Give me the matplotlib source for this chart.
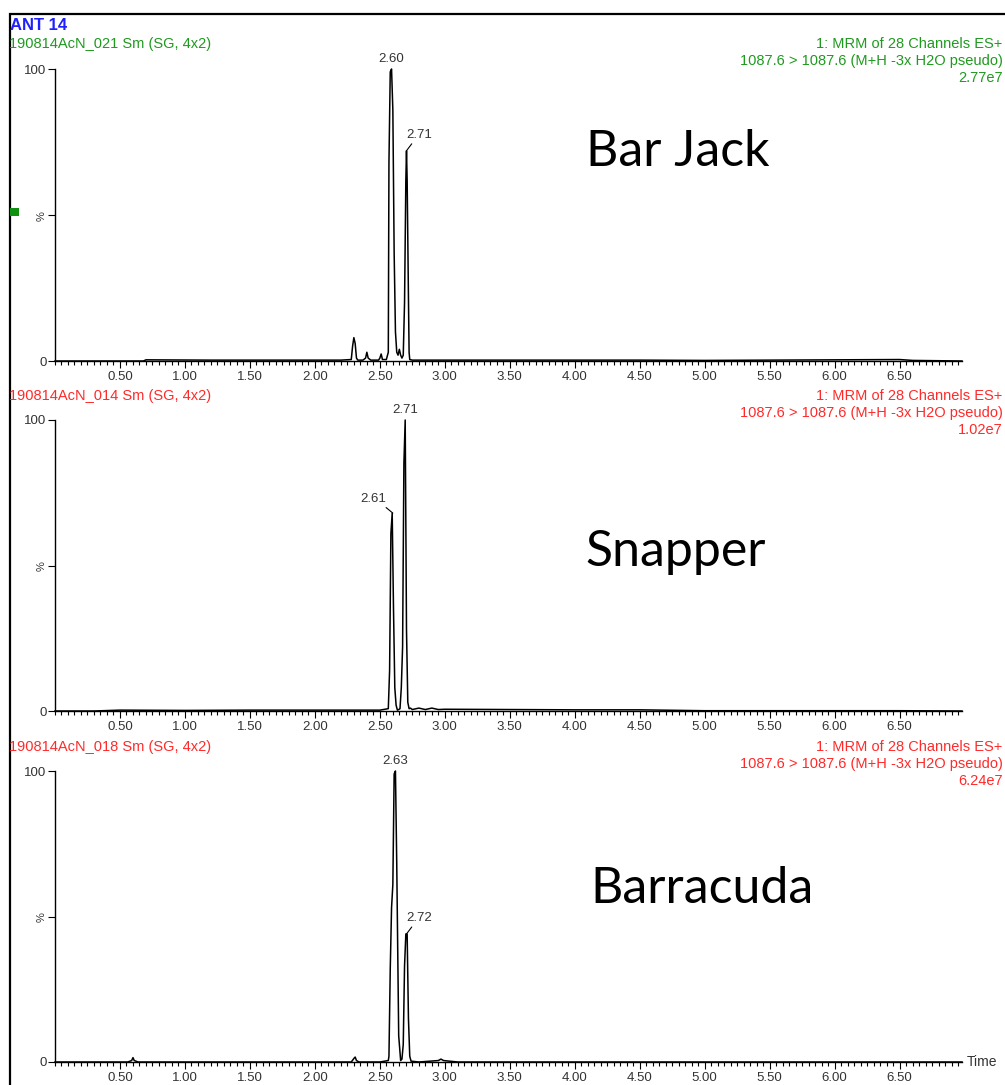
import matplotlib
matplotlib.use("Agg")
import matplotlib.pyplot as plt
from matplotlib.patches import Rectangle
from matplotlib.ticker import MultipleLocator, FixedLocator

# ---------------- data ----------------
title = "ANT 14"
sample_names = ["190814AcN_021 Sm (SG, 4x2)", "190814AcN_014 Sm (SG, 4x2)", "190814AcN_018 Sm (SG, 4x2)"]
channel_line1 = "1: MRM of 28 Channels ES+"
channel_line2 = "1087.6 > 1087.6 (M+H -3x H2O pseudo)"
intensities = ["2.77e7", "1.02e7", "6.24e7"]
species = ["Bar Jack", "Snapper", "Barracuda"]
header_colors = ["#1f9a1f", "#ff2a2a", "#ff2a2a"]

# Bar Jack trace (time in min, relative intensity %)
t_barjack = [0.00, 0.68, 0.70, 1.20, 1.80, 2.20, 2.28, 2.29, 2.30, 2.31, 2.32, 2.33,
             2.37, 2.39, 2.40, 2.41, 2.43, 2.49, 2.50, 2.51, 2.52, 2.55, 2.565,
             2.57, 2.58, 2.59, 2.60, 2.61, 2.62, 2.63, 2.64, 2.65, 2.66, 2.67,
             2.68, 2.69, 2.70, 2.705, 2.71, 2.72, 2.725, 2.73, 2.75, 2.85, 3.50,
             4.50, 5.00, 6.50, 6.60, 6.98]
v_barjack = [0.0, 0.0, 0.4, 0.3, 0.3, 0.3, 0.5, 5.0, 8.0, 6.0, 1.0, 0.3,
             0.3, 1.0, 3.0, 1.0, 0.3, 0.3, 1.0, 2.4, 0.5, 0.5, 3.0,
             68.0, 99.0, 100.0, 86.0, 37.0, 10.0, 3.0, 2.0, 4.0, 2.0, 1.0,
             2.0, 20.0, 62.0, 72.0, 62.0, 22.0, 3.0, 0.5, 0.3, 0.3, 0.3,
             0.3, 0.2, 0.5, 0.2, 0.0]

# Snapper trace
t_snapper = [0.00, 0.30, 0.50, 1.00, 1.50, 2.00, 2.50, 2.565, 2.575, 2.585,
             2.595, 2.605, 2.615, 2.625, 2.635, 2.645, 2.655, 2.665, 2.675,
             2.685, 2.695, 2.705, 2.715, 2.725, 2.735, 2.75, 2.80, 2.85, 2.90,
             2.95, 3.00, 3.50, 4.00, 4.50, 5.00, 6.50, 6.98]
v_snapper = [0.0, 0.0, 0.3, 0.2, 0.3, 0.3, 0.3, 0.8, 14.0, 61.0,
             68.0, 35.0, 8.0, 2.0, 0.3, 0.5, 0.8, 8.0, 22.0,
             85.0, 100.0, 28.0, 3.0, 0.8, 1.0, 0.5, 1.0, 0.5, 1.0,
             0.5, 0.6, 0.5, 0.4, 0.4, 0.1, 0.1, 0.0]

# Barracuda trace
t_barracuda = [0.00, 0.56, 0.59, 0.60, 0.61, 0.64, 1.50, 2.28, 2.30, 2.31, 2.32,
               2.34, 2.50, 2.565, 2.57, 2.58, 2.59, 2.60, 2.61, 2.62, 2.63, 2.645,
               2.66, 2.67, 2.68, 2.69, 2.70, 2.71, 2.72, 2.73, 2.74, 2.80, 2.95,
               2.97, 2.99, 3.10, 6.98]
v_barracuda = [0.0, 0.0, 0.5, 1.5, 0.5, 0.0, 0.0, 0.0, 1.2, 1.7, 0.5,
               0.0, 0.0, 0.5, 2.0, 32.0, 53.0, 61.0, 99.0, 100.0, 68.0, 9.0,
               0.5, 1.0, 6.0, 33.0, 44.0, 44.0, 15.0, 2.0, 0.3, 0.0, 0.5,
               1.0, 0.5, 0.0, 0.0]

traces_t = [t_barjack, t_snapper, t_barracuda]
traces_v = [v_barjack, v_snapper, v_barracuda]

# peak labels: (time of apex, value, label text)
peak_labels = [
    [(2.59, 100.0, "2.60"), (2.705, 72.0, "2.71")],
    [(2.60, 68.0, "2.61"), (2.695, 100.0, "2.71")],
    [(2.615, 100.0, "2.63"), (2.705, 44.0, "2.72")],
]
label_offsets = [
    [(0, 3), (9, 7)],
    [(-4.5, 6), (0, 3)],
    [(0, 3), (9, 7)],
]

x_major_labels = [0.50, 1.00, 1.50, 2.00, 2.50, 3.00, 3.50, 4.00, 4.50, 5.00, 5.50, 6.00, 6.50]

# ---------------- figure ----------------
W, H = 1005, 1085
fig = plt.figure(figsize=(W / 100, H / 100), dpi=100)
plt.rcParams['font.family'] = ['Liberation Sans', 'DejaVu Sans']

def fx(px):
    return px / W

def fy(py):
    return 1 - py / H

# outer frame
fig.add_artist(Rectangle((fx(10), fy(1100)), 1.2, fy(14) - fy(1100), transform=fig.transFigure,
                         fill=False, edgecolor="black", linewidth=1.6))
fig.text(fx(10), fy(25), title, color="#2020ff", fontsize=12, fontweight="bold", va="center", ha="left")
fig.add_artist(Rectangle((fx(10), fy(216)), fx(9), fy(208) - fy(216), transform=fig.transFigure,
                         facecolor="#109010", edgecolor="none"))

axes_top = [69, 420, 771]
axes_bot = [361, 711, 1062]
header_y = [44, 396, 747]
species_pos = [(678, 152), (676, 552), (702, 889)]

for i in range(3):
    ax = fig.add_axes([fx(55), fy(axes_bot[i]), fx(962) - fx(55), fy(axes_top[i]) - fy(axes_bot[i])])
    ax.plot(traces_t[i], traces_v[i], color="black", linewidth=1.1, clip_on=False)
    ax.set_xlim(0, 6.98)
    ax.set_ylim(0, 100)
    for s in ["top", "right"]:
        ax.spines[s].set_visible(False)
    ax.spines["left"].set_linewidth(1.0)
    ax.spines["bottom"].set_linewidth(1.0)
    ax.xaxis.set_major_locator(FixedLocator(x_major_labels))
    ax.set_xticklabels([f"{v:.2f}" for v in x_major_labels])
    ax.xaxis.set_minor_locator(MultipleLocator(0.05))
    ax.tick_params(axis="x", which="major", length=5, width=0.8, labelsize=9.5, pad=2,
                   direction="out", labelcolor="#333333")
    ax.tick_params(axis="x", which="minor", length=3, width=0.8, direction="out")
    ax.set_yticks([0, 50, 100])
    ax.set_yticklabels(["0", "%", "100"])
    ax.tick_params(axis="y", length=5, width=0.8, labelsize=9.5, pad=1, labelcolor="#333333")
    ax.get_yticklabels()[1].set_rotation(90)
    ax.get_yticklabels()[1].set_fontsize(8)

    for (pt, pv, txt), (dx, dy) in zip(peak_labels[i], label_offsets[i]):
        if dx == 0:
            ax.annotate(txt, xy=(pt, pv), xytext=(0, dy), textcoords="offset points",
                        ha="center", va="bottom", fontsize=9.5, color="#333333", annotation_clip=False)
        else:
            ax.annotate(txt, xy=(pt, pv), xytext=(dx, dy), textcoords="offset points",
                        ha="center" if dx > 0 else "right", va="bottom", fontsize=9.5, color="#333333",
                        annotation_clip=False,
                        arrowprops=dict(arrowstyle="-", color="black", linewidth=0.8,
                                        shrinkA=0, shrinkB=0,
                                        relpos=(0.3, 0.0) if dx > 0 else (0.85, 0.0)))

    col = header_colors[i]
    fig.text(fx(9), fy(header_y[i]), sample_names[i], color=col, fontsize=10.5, va="center", ha="left")
    fig.text(fx(1002), fy(header_y[i]), channel_line1, color=col, fontsize=10.5, va="center", ha="right")
    fig.text(fx(1003), fy(header_y[i] + 17), channel_line2, color=col, fontsize=10.5, va="center", ha="right")
    fig.text(fx(1003), fy(header_y[i] + 34), intensities[i], color=col, fontsize=10.5, va="center", ha="right")

    sx, sy = species_pos[i]
    fig.text(fx(sx), fy(sy), species[i], fontsize=36, family=["Lato", "DejaVu Sans"],
             ha="center", va="center", color="black")

fig.text(fx(967), fy(1062), "Time", fontsize=10, va="center", ha="left", color="#333333")

fig.savefig("out.png", dpi=100)
